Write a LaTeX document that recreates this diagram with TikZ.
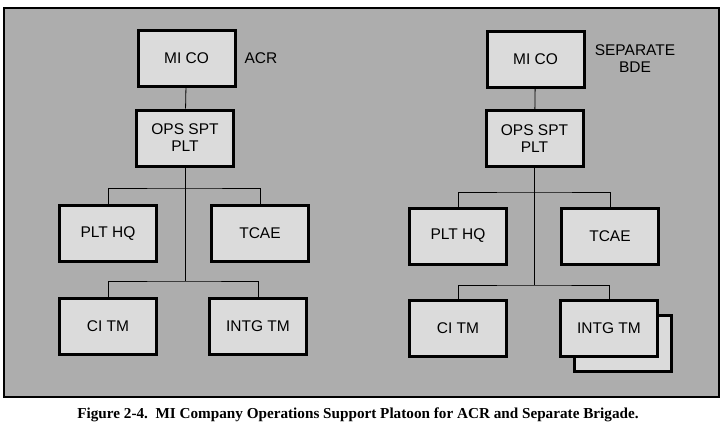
\documentclass[tikz,border=0pt]{standalone}
\usepackage{fontspec}
\setmainfont{Liberation Serif}
\setsansfont{Liberation Sans}
\usepackage{tikz}

\definecolor{screen}{gray}{0.68}
\definecolor{boxfill}{gray}{0.86}

\begin{document}
\begin{tikzpicture}[x=1pt,y=-1pt]
			\tikzset{unit/.style={shape = rectangle, draw, line width = 3pt, fill = boxfill,
					minimum width = 97pt, minimum height = 56pt, align = center,
					font = \sffamily\fontsize{15.5}{17}\selectfont}}
			\tikzset{link/.style={line width = 0.8pt}}
			\tikzset{tag/.style={align = center, font = \sffamily\fontsize{15.5}{17}\selectfont}}
			\useasboundingbox (0,0) rectangle (724,437);
			%frame
			\draw[line width = 2.5pt, fill = screen] (4,8) rectangle (719,397);
			%ACR side
			\node[unit] (micoA) at (186.5,58.5) {MI CO};
			\node[tag, anchor = west] (acr) at (241,58) {ACR};
			\node[unit] (opsA) at (185,138) {OPS SPT\\PLT};
			\node[unit] (hqA) at (108,233.5) {PLT HQ};
			\node[unit] (tcaeA) at (260,233.5) {TCAE};
			\node[unit] (ciA) at (108,326.5) {CI TM};
			\node[unit] (intgA) at (258,326.5) {INTG TM};
			\coordinate (upA) at (185,188);
			\coordinate (lowA) at (185,281);
			%separate brigade side
			\node[unit] (micoB) at (535.5,59.5) {MI CO};
			\node[tag] (bde) at (635,59) {SEPARATE\\BDE};
			\node[unit] (opsB) at (534.5,138.5) {OPS SPT\\PLT};
			\node[unit] (hqB) at (458,236) {PLT HQ};
			\node[unit] (tcaeB) at (610,236) {TCAE};
			\node[unit] (ciB) at (458,328) {CI TM};
			\node[unit] (extraB) at (623,343) {};
			\node[unit] (intgB) at (609,328) {INTG TM};
			\coordinate (upB) at (534.5,192);
			\coordinate (lowB) at (534.5,285);
			%edges
			\draw[link] (micoA) -- (opsA);
			\draw[link] (opsA) -- (lowA);
			\draw[link] (hqA) |- (upA) -| (tcaeA);
			\draw[link] (ciA) |- (lowA) -| (intgA);
			\draw[link] (micoB) -- (opsB);
			\draw[link] (opsB) -- (lowB);
			\draw[link] (hqB) |- (upB) -| (tcaeB);
			\draw[link] (ciB) |- (lowB) -| (intgB);
			%caption
			\node[font = \bfseries\fontsize{15.2}{17}\selectfont] (caption) at (358,415)
				{Figure 2-4.\ \ MI Company Operations Support Platoon for ACR and Separate Brigade.};
\end{tikzpicture}
\end{document}
